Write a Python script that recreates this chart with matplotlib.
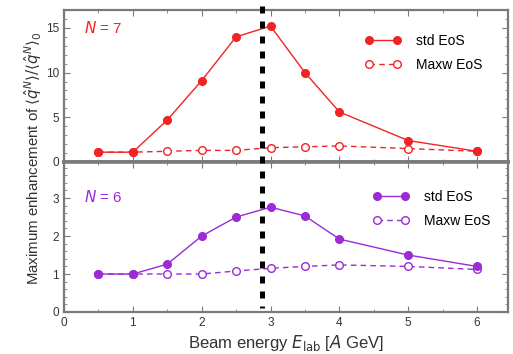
import matplotlib
matplotlib.use("Agg")
import matplotlib.pyplot as plt
from matplotlib.ticker import MultipleLocator
from matplotlib.lines import Line2D
from matplotlib.transforms import blended_transform_factory

plt.rcParams['font.family'] = ['Liberation Sans', 'DejaVu Sans']

# Beam energies [A GeV]
energy = [0.5, 1.0, 1.5, 2.0, 2.5, 3.0, 3.5, 4.0, 5.0, 6.0]

# N = 7
n7_std = [1.1, 1.1, 4.7, 9.1, 14.0, 15.2, 10.0, 5.6, 2.4, 1.2]
n7_maxw = [1.1, 1.1, 1.2, 1.3, 1.3, 1.6, 1.7, 1.8, 1.5, 1.2]

# N = 6
n6_std = [1.0, 1.0, 1.26, 2.0, 2.5, 2.76, 2.53, 1.92, 1.5, 1.2]
n6_maxw = [1.0, 1.0, 1.0, 1.0, 1.08, 1.15, 1.2, 1.24, 1.2, 1.12]

x_ticks = [0, 1, 2, 3, 4, 5, 6]
top_yticks = [0, 5, 10, 15]
bot_yticks = [0, 1, 2, 3]
e_peak = 2.88

red = '#f02424'
purple = '#9a2bd6'
spine_c = '#7a7a7a'
text_c = '#333333'

W, H = 513, 354
fig = plt.figure(figsize=(W / 100, H / 100), dpi=100)
left, right = 64 / W, 508 / W
ax1 = fig.add_axes([left, (H - 162) / H, right - left, 152 / H])
ax2 = fig.add_axes([left, (H - 312) / H, right - left, 150 / H])


def style(ax):
    for s in ax.spines.values():
        s.set_color(spine_c)
        s.set_linewidth(1.6)
    ax.tick_params(which='both', direction='in', top=True, right=True,
                   color=spine_c, labelsize=8.5, labelcolor=text_c)
    ax.tick_params(which='major', length=4, width=0.8)
    ax.tick_params(which='minor', length=2, width=0.6)
    ax.set_xlim(0, 6.45)
    ax.set_xticks(x_ticks)
    ax.xaxis.set_minor_locator(MultipleLocator(0.5))


style(ax1)
style(ax2)
ax1.spines['bottom'].set_linewidth(2.6)
ax2.spines['top'].set_linewidth(2.6)
ax1.tick_params(labelbottom=False)

ax1.set_ylim(0, 17.0)
ax1.set_yticks(top_yticks)
ax1.yaxis.set_minor_locator(MultipleLocator(1))
ax2.set_ylim(0, 3.95)
ax2.set_yticks(bot_yticks)
ax2.yaxis.set_minor_locator(MultipleLocator(0.2))

ms = 5.5
ax1.plot(energy, n7_maxw, '--o', color=red, mfc='white', mec=red, ms=ms,
         lw=1.0, mew=1.0, dashes=(4, 3), label='Maxw EoS', zorder=2)
ax1.plot(energy, n7_std, '-o', color=red, ms=ms, lw=1.0,
         label='std EoS', zorder=3)
ax2.plot(energy, n6_maxw, '--o', color=purple, mfc='white', mec=purple,
         ms=ms, lw=1.0, mew=1.0, dashes=(4, 3), label='Maxw EoS', zorder=2)
ax2.plot(energy, n6_std, '-o', color=purple, ms=ms, lw=1.0,
         label='std EoS', zorder=3)

for ax, x0, y_top in ((ax1, 365, 34), (ax2, 373, 190)):
    h, l = ax.get_legend_handles_labels()
    ax.legend(h[::-1], l[::-1], loc='upper left',
              bbox_to_anchor=(x0 / W, 1 - y_top / H),
              bbox_transform=fig.transFigure, numpoints=2,
              frameon=False, fontsize=10, handlelength=2.6,
              handletextpad=1.1, labelspacing=0.7, borderpad=0,
              borderaxespad=0)

fig.text(84 / W, 1 - 28 / H, r'$N$ = 7', color=red, fontsize=11,
         ha='left', va='center')
fig.text(84 / W, 1 - 197 / H, r'$N$ = 6', color=purple, fontsize=11,
         ha='left', va='center')

ax2.set_xlabel(r'Beam energy $E_{\rm lab}$ [$A$ GeV]', fontsize=12,
               labelpad=3, color=text_c)
fig.text(33 / W, 1 - 158 / H,
         r'Maximum enhancement of $\langle\hat{q}^N\rangle/\langle\hat{q}^N\rangle_0$',
         rotation=90, ha='center', va='center', fontsize=10.8, color=text_c)

# energy of the maximum, spanning both panels
trans = blended_transform_factory(ax2.transData, fig.transFigure)
fig.add_artist(Line2D([e_peak, e_peak], [1 - 6 / H, 1 - 308 / H],
                      transform=trans, color='black', lw=3.6,
                      linestyle=(0, (1.4, 1.6)), dash_capstyle='butt',
                      zorder=5))

fig.savefig('out.png', dpi=100)
